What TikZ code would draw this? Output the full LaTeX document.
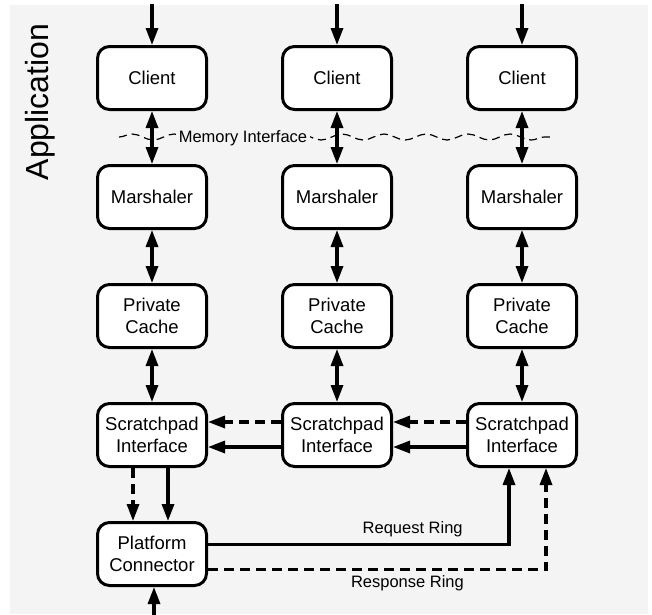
\documentclass[tikz,border=0pt]{standalone}
\usepackage{fontspec}
\setmainfont{Liberation Sans}
\usetikzlibrary{arrows.meta,positioning,decorations.pathmorphing,backgrounds}

\definecolor{panel}{HTML}{F4F4F4}

\begin{document}
\begin{tikzpicture}[
  x=1pt, y=-1pt,
  font=\fontsize{18.5}{21.5}\selectfont,
  >={Triangle[length=17pt,width=12pt]},
  block/.style={draw, line width=3pt, rounded corners=12pt, align=center,
                minimum width=109pt, minimum height=63pt, inner sep=2pt, fill=white},
  flow/.style={->, line width=3.2pt},
  both/.style={<->, line width=3.2pt},
  dflow/.style={flow, dash pattern=on 10pt off 6pt},
  lbl/.style={font=\fontsize{16.5}{19}\selectfont, inner sep=2pt},
  wave/.style={decorate, decoration={snake, segment length=42pt, amplitude=3pt},
               line width=1.2pt, dash pattern=on 8pt off 5pt},
]
\useasboundingbox (0,0) rectangle (652,614);
\fill[panel] (10,5) rectangle (648,614);

% ---- application side label --------------------------------------------
\node[font=\fontsize{32}{32}\selectfont, rotate=90] (app) at (40,102) {Application};

% ---- row 1: clients -----------------------------------------------------
\node[block] (client1) at (152,78) {Client};
\node[block, right=73pt of client1] (client2) {Client};
\node[block, right=73pt of client2] (client3) {Client};

% ---- row 2: marshalers --------------------------------------------------
\node[block, below=53pt of client1] (marsh1) {Marshaler};
\node[block, below=53pt of client2] (marsh2) {Marshaler};
\node[block, below=53pt of client3] (marsh3) {Marshaler};

% ---- row 3: private caches ----------------------------------------------
\node[block, below=53pt of marsh1] (cache1) {Private\\Cache};
\node[block, below=53pt of marsh2] (cache2) {Private\\Cache};
\node[block, below=53pt of marsh3] (cache3) {Private\\Cache};

% ---- row 4: scratchpad interfaces ---------------------------------------
\node[block, below=53pt of cache1] (pad1) {Scratchpad\\Interface};
\node[block, below=53pt of cache2] (pad2) {Scratchpad\\Interface};
\node[block, below=53pt of cache3] (pad3) {Scratchpad\\Interface};

% ---- row 5: platform connector ------------------------------------------
\node[block, below=53pt of pad1] (conn) {Platform\\Connector};

% ---- memory interface boundary ------------------------------------------
\coordinate (waveL) at (119,137);
\coordinate (waveR) at (550,137);
\draw[wave] (waveL) -- (waveR);
\node[lbl, fill=panel, inner sep=3pt] (memif) at (243,138) {Memory Interface};

% ---- inputs from the top and bottom -------------------------------------
\coordinate (top1) at ([yshift=41pt]client1.north);
\coordinate (top2) at ([yshift=41pt]client2.north);
\coordinate (top3) at ([yshift=41pt]client3.north);
\coordinate (bot) at ([xshift=2pt, yshift=-39pt]conn.south);
\draw[flow] (top1) -- (client1);
\draw[flow] (top2) -- (client2);
\draw[flow] (top3) -- (client3);
\draw[flow] (bot) -- ([xshift=2pt]conn.south);

% ---- vertical links in each column --------------------------------------
\draw[both] (client1) -- (marsh1);
\draw[both] (client2) -- (marsh2);
\draw[both] (client3) -- (marsh3);
\draw[both] (marsh1) -- (cache1);
\draw[both] (marsh2) -- (cache2);
\draw[both] (marsh3) -- (cache3);
\draw[both] (cache1) -- (pad1);
\draw[both] (cache2) -- (pad2);
\draw[both] (cache3) -- (pad3);

% ---- scratchpad chain (right to left) -----------------------------------
\draw[dflow] ([yshift=13pt]pad2.west) -- ([yshift=13pt]pad1.east);
\draw[flow]  ([yshift=-12pt]pad2.west) -- ([yshift=-12pt]pad1.east);
\draw[dflow] ([yshift=13pt]pad3.west) -- ([yshift=13pt]pad2.east);
\draw[flow]  ([yshift=-12pt]pad3.west) -- ([yshift=-12pt]pad2.east);

% down into the connector
\draw[dflow] ([xshift=-19pt]pad1.south) -- ([xshift=-19pt]conn.north);
\draw[flow]  ([xshift=16pt]pad1.south) -- ([xshift=16pt]conn.north);

% ---- rings back to the last scratchpad ----------------------------------
\draw[flow] ([yshift=9.5pt]conn.east) -| ([xshift=-13pt]pad3.south)
  node[lbl, pos=0.34, above=4pt] (reqlbl) {Request Ring};
\draw[dflow] ([yshift=-15.5pt]conn.east) -| ([xshift=24pt]pad3.south)
  node[lbl, pos=0.295, below=2pt] (resplbl) {Response Ring};

\end{tikzpicture}
\end{document}
